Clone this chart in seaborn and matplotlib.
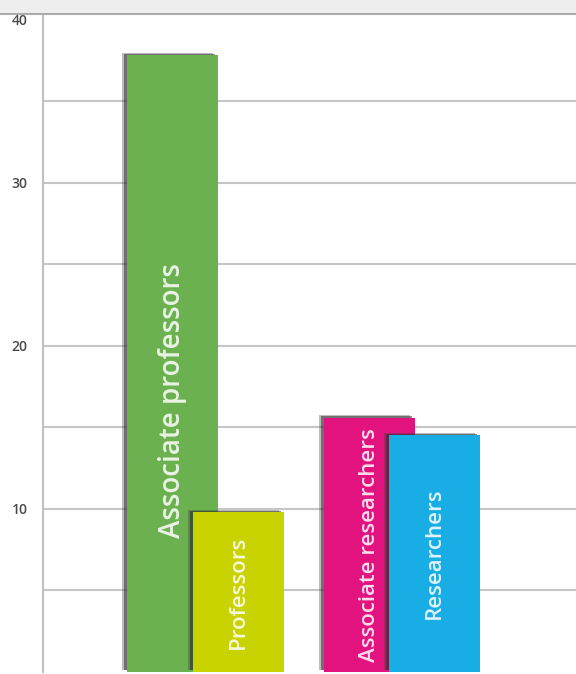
import matplotlib
matplotlib.use("Agg")
import matplotlib.pyplot as plt
import matplotlib.patheffects as pe
from matplotlib.patches import Rectangle
from matplotlib.lines import Line2D
import pandas as pd
import seaborn as sns

# Data
roles = ["Associate professors", "Professors", "Associate researchers", "Researchers"]
counts = [37.8, 9.8, 15.6, 14.5]
colors = ["#6cb150", "#c9d300", "#e2137e", "#18ade4"]
label_sizes = [20, 16, 16, 16]
y_ticks = [10, 20, 30, 40]

df = pd.DataFrame({"role": roles, "count": counts})

# blank slot between the two groups
order = roles[:2] + [" "] + roles[2:]

sns.set_style("white")
plt.rcParams["font.family"] = ["Open Sans", "DejaVu Sans"]

fig = plt.figure(figsize=(5.76, 6.74), dpi=100)
W, H = 576, 674
ax = fig.add_axes([43 / W, 2 / H, 1 - 43 / W, (672 - 13) / H])

sns.barplot(data=df, x="role", y="count", hue="role", order=order,
            palette=dict(zip(roles, colors)), saturation=1, width=1.39,
            legend=False, linewidth=0, ax=ax, zorder=3)

# soft drop shadow on the bars
for p in ax.patches:
    p.set_path_effects([pe.SimplePatchShadow(offset=(-3.6, 1.8), shadow_rgbFace="0.25", alpha=0.35),
                        pe.SimplePatchShadow(offset=(-2.2, 1.1), shadow_rgbFace="0.15", alpha=0.5),
                        pe.Normal()])

# white labels inside the bars
for role, val, fs in zip(roles, counts, label_sizes):
    xpos = order.index(role)
    ypos = val * (0.44 if fs > 16 else 0.5)
    ax.text(xpos, ypos, role, rotation=90, ha="center", va="center",
            color="white", alpha=0.85, fontsize=fs, fontweight="semibold", zorder=5)

ax.set_xlim(-1.98, 6.16)
ax.set_ylim(0, 40.4)
ax.set_yticks(y_ticks)
ax.set_yticks([5, 15, 25, 35], minor=True)
ax.grid(True, axis="y", which="both", color="#c6c6c6", linewidth=1.5, zorder=0)
ax.yaxis.get_gridlines()[-1].set_visible(False)
ax.set_axisbelow(True)
ax.tick_params(axis="y", which="both", length=0, pad=11, labelsize=10, labelcolor="#4a4a4a")
for lbl in ax.get_yticklabels():
    lbl.set_fontweight("semibold")
ax.tick_params(axis="x", length=0, labelbottom=False)
ax.set_xlabel("")
ax.set_ylabel("")
for s in ["top", "right", "bottom"]:
    ax.spines[s].set_visible(False)
ax.spines["left"].set_color("#c0c0c0")
ax.spines["left"].set_linewidth(1.5)

# grey strip across the top of the screenshot
fig.patches.append(Rectangle((0, 1 - 13 / H), 1, 13 / H, transform=fig.transFigure,
                             facecolor="#eeeeee", edgecolor="none", zorder=0))
fig.lines.append(Line2D([0, 1], [1 - 13.5 / H, 1 - 13.5 / H], transform=fig.transFigure,
                        color="#ababab", linewidth=1.5))

fig.savefig("out.png", dpi=100)
